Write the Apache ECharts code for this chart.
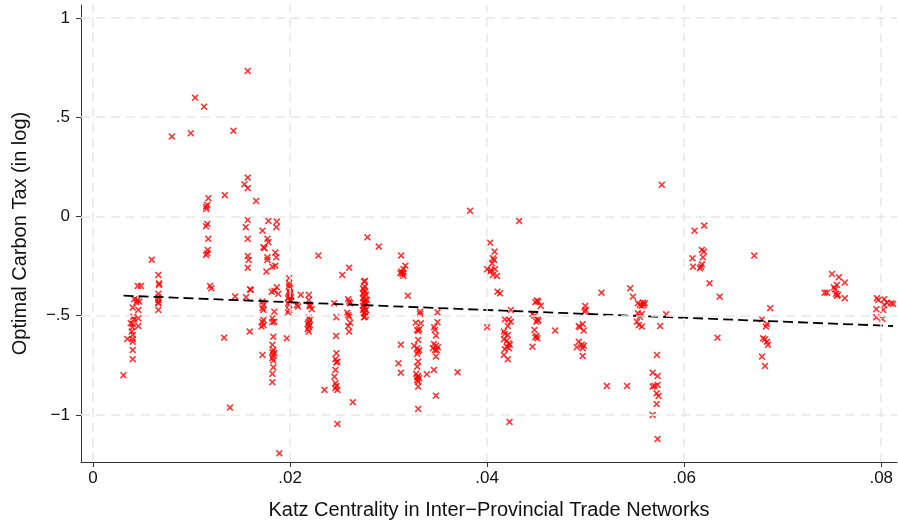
<!DOCTYPE html>
<html>
<head>
<meta charset="utf-8">
<script src="https://cdn.jsdelivr.net/npm/echarts@6/dist/echarts.min.js"></script>
<style>html,body{margin:0;padding:0;background:#fff}#c{width:898px;height:527px}</style>
</head>
<body>
<div id="c"></div>
<script>
// Katz centrality (x) and optimal carbon tax in log (y)
const katz = [
0.00308,0.00348,0.00383,0.00393,0.00400,0.00403,0.00403,0.00409,0.00416,0.00419,0.00403,0.00403,0.00403,0.00403,0.00403,0.00440,0.00450,0.00470,0.00460,0.00460,0.00460,0.00454,0.00487,
0.00596,0.00663,0.00670,0.00670,0.00663,0.00663,0.00663,0.00663,0.00663,0.00663,
0.0080,0.00992,0.01036,0.01127,0.01425,0.01337,0.01171,0.01160,0.01147,0.01150,0.01160,0.01147,0.01170,0.01164,0.01160,0.01147,0.01188,0.01200,0.0133,0.0139,0.01442,
0.0157,0.0157,0.01536,0.0157,0.01655,0.0157,0.0155,0.0157,0.0157,0.0158,0.0157,0.01594,0.0160,0.01553,0.0159,
0.0178,0.01865,0.0186,0.0172,0.0177,0.0178,0.0173,0.0174,0.0185,0.0186,0.0177,0.0177,0.0182,0.0185,0.0176,0.01814,0.0184,0.01865,0.0188,0.0172,0.0173,0.0172,0.0173,0.0173,0.0172,0.0173,0.0171,0.0184,0.0182,0.0184,0.0182,0.0183,0.0172,0.0182,0.0183,0.0182,0.0184,0.0183,0.0182,0.0183,0.0183,0.0182,0.0182,0.01891,
0.0199,0.0199,0.0199,0.0200,0.0199,0.0200,0.0200,0.0199,0.0201,0.0198,0.0200,0.0201,0.0198,0.0199,0.0199,0.0198,0.01966,
0.02108,0.0207,0.0208,0.0219,0.0219,0.0220,0.0220,0.0222,0.0219,0.0220,0.0219,0.0218,0.0220,0.0219,0.0218,0.0219,0.02287,
0.02349,0.02447,0.0247,0.02467,0.0247,0.0246,0.0248,0.0247,0.0246,0.0245,0.0246,0.0247,0.0246,0.0248,0.0248,0.0253,
0.0260,0.02637,0.0259,0.0260,0.0261,0.0258,0.0259,0.0260,0.0261,0.0259,0.0260,
0.02785,0.0290,0.0276,0.0275,0.0276,0.0274,0.0275,0.0276,0.0274,0.0277,0.0275,0.0274,0.0276,0.0278,0.0275,0.0277,0.0275,0.0274,0.0276,0.0275,0.0277,0.0274,0.0276,0.0275,0.0277,0.0276,0.0275,
0.03127,0.0317,0.0315,0.0313,0.0315,0.0312,0.0314,0.0315,0.03195,0.03124,0.0310,0.03124,
0.0332,0.0332,0.03276,0.03327,0.0329,0.0330,0.0331,0.0330,0.0326,0.0329,0.0331,0.0330,0.0329,0.0330,0.0329,0.0328,0.0330,0.0329,0.0331,0.0329,0.0330,0.0330,0.0330,0.03388,
0.03496,0.03496,0.03462,0.0347,0.0348,0.0346,0.0348,0.0345,0.0350,0.0347,0.0349,0.0348,0.0346,0.0348,0.0370,0.03827,
0.0400,0.0403,0.04075,0.0406,0.0407,0.0405,0.0400,0.0404,0.0408,0.0403,0.0406,0.0410,0.04105,0.0413,0.04325,
0.0424,0.0418,0.0422,0.0424,0.0421,0.0417,0.0418,0.0421,0.0417,0.0420,0.0422,0.0423,0.0420,0.0418,0.0422,0.0417,0.0421,0.04227,
0.04505,0.0452,0.0449,0.04545,0.0446,0.0448,0.0451,0.0450,0.0452,0.0448,0.0450,0.0451,0.0449,0.0446,0.0469,
0.04995,0.0500,0.0499,0.0493,0.0497,0.0494,0.0498,0.0493,0.0496,0.0491,0.0498,0.0497,0.0497,0.0516,0.05215,0.0542,
0.05452,0.0548,0.0553,0.0555,0.0558,0.0560,0.0557,0.0559,0.0553,0.0557,0.0555,0.0552,0.0554,0.0557,0.05817,0.05756,0.05773,
0.05723,0.0568,0.0573,0.0568,0.0570,0.0573,0.0572,0.0574,0.0572,0.0568,0.0573,
0.06105,0.06203,0.0618,0.0620,0.06084,0.0619,0.0609,0.0617,0.0618,0.0616,0.06257,0.0636,0.06338,0.06711,
0.0679,0.0684,0.0683,0.0680,0.0682,0.0684,0.0685,0.0679,0.0682,0.06873,
0.0750,0.0757,0.0763,0.0755,0.0752,0.0753,0.07425,0.0745,0.0754,0.0755,0.0756,0.0763,
0.07956,0.0797,0.0803,0.0806,0.0810,0.0812,0.0803,0.0795,0.0802,0.0795,0.0801
];
const tax = [
-0.800,-0.617,-0.538,-0.580,-0.558,-0.542,-0.459,-0.505,-0.518,-0.417,-0.597,-0.617,-0.631,-0.673,-0.719,-0.432,-0.421,-0.429,-0.471,-0.513,-0.552,-0.350,-0.350,
-0.218,-0.295,-0.337,-0.345,-0.390,-0.407,-0.421,-0.434,-0.437,-0.471,
0.402,0.419,0.598,0.553,0.431,0.107,0.092,0.058,0.049,0.038,-0.038,-0.049,-0.113,-0.169,-0.185,-0.194,-0.350,-0.362,-0.611,-0.963,-0.403,
0.733,0.196,0.162,0.142,0.078,-0.018,-0.054,-0.113,-0.199,-0.219,-0.258,-0.367,-0.370,-0.407,-0.580,
-0.023,-0.026,-0.054,-0.072,-0.113,-0.130,-0.155,-0.160,-0.182,-0.206,-0.206,-0.219,-0.253,-0.249,-0.278,-0.379,-0.374,-0.357,-0.390,-0.429,-0.446,-0.462,-0.471,-0.521,-0.533,-0.547,-0.555,-0.480,-0.513,-0.530,-0.533,-0.606,-0.698,-0.647,-0.673,-0.684,-0.689,-0.701,-0.714,-0.726,-0.760,-0.793,-0.835,-1.193,
-0.311,-0.337,-0.350,-0.362,-0.379,-0.387,-0.395,-0.404,-0.404,-0.412,-0.421,-0.424,-0.437,-0.446,-0.471,-0.483,-0.614,
-0.395,-0.446,-0.454,-0.395,-0.421,-0.446,-0.454,-0.467,-0.510,-0.521,-0.533,-0.542,-0.547,-0.555,-0.568,-0.580,-0.197,
-0.874,-0.437,-0.508,-0.602,-0.689,-0.719,-0.731,-0.736,-0.773,-0.807,-0.840,-0.854,-0.866,-0.874,-1.045,-0.295,
-0.258,-0.936,-0.417,-0.429,-0.437,-0.485,-0.496,-0.505,-0.535,-0.552,-0.580,
-0.105,-0.152,-0.325,-0.328,-0.354,-0.362,-0.370,-0.379,-0.387,-0.395,-0.404,-0.412,-0.421,-0.421,-0.429,-0.437,-0.437,-0.451,-0.454,-0.462,-0.471,-0.471,-0.485,-0.488,-0.496,-0.505,-0.508,
-0.197,-0.248,-0.266,-0.278,-0.283,-0.286,-0.290,-0.300,-0.399,-0.646,-0.740,-0.787,
-0.480,-0.491,-0.535,-0.538,-0.572,-0.577,-0.568,-0.622,-0.652,-0.664,-0.673,-0.681,-0.693,-0.731,-0.757,-0.793,-0.804,-0.810,-0.815,-0.824,-0.832,-0.857,-0.970,-0.795,
-0.483,-0.533,-0.558,-0.572,-0.600,-0.642,-0.652,-0.664,-0.659,-0.673,-0.673,-0.706,-0.773,-0.903,-0.785,0.028,
-0.558,-0.132,-0.177,-0.211,-0.219,-0.236,-0.266,-0.270,-0.266,-0.278,-0.295,-0.300,-0.379,-0.387,-0.023,
-0.471,-0.518,-0.518,-0.530,-0.552,-0.580,-0.592,-0.597,-0.619,-0.626,-0.639,-0.647,-0.656,-0.669,-0.664,-0.698,-0.719,-1.035,
-0.424,-0.429,-0.432,-0.451,-0.491,-0.500,-0.518,-0.530,-0.525,-0.572,-0.602,-0.614,-0.609,-0.656,-0.575,
-0.451,-0.471,-0.480,-0.552,-0.542,-0.558,-0.575,-0.631,-0.647,-0.659,-0.652,-0.664,-0.703,-0.384,-0.854,-0.854,
-0.362,-0.404,-0.437,-0.446,-0.434,-0.437,-0.451,-0.446,-0.488,-0.491,-0.505,-0.530,-0.547,-0.555,-0.493,-0.552,0.159,
-0.698,-0.787,-0.804,-0.857,-0.854,-0.849,-0.891,-0.904,-0.945,-1.000,-1.121,
-0.072,-0.046,-0.169,-0.177,-0.211,-0.206,-0.253,-0.253,-0.241,-0.261,-0.337,-0.404,-0.611,-0.197,
-0.518,-0.542,-0.555,-0.614,-0.619,-0.631,-0.647,-0.706,-0.753,-0.462,
-0.290,-0.306,-0.333,-0.345,-0.357,-0.367,-0.384,-0.384,-0.390,-0.400,-0.395,-0.412,
-0.412,-0.421,-0.417,-0.434,-0.437,-0.441,-0.446,-0.467,-0.471,-0.508,-0.516
];
// Fitted line end points
const fitX = [0.0031, 0.0812];
const fitY = [-0.399, -0.552];
// Ticks
const xTicks = [0, 0.02, 0.04, 0.06, 0.08];
const xTickLabels = ["0", ".02", ".04", ".06", ".08"];
const yTicks = [1, 0.5, 0, -0.5, -1];
const yTickLabels = ["1", ".5", "0", "\u2212.5", "\u22121"];

const points = katz.map((x, i) => [x, tax[i]]);
const fit = fitX.map((x, i) => [x, fitY[i]]);

const font = '"Liberation Sans", Arial, Helvetica, sans-serif';
const xMark = 'path://M1.6,0 L5,3.4 L8.4,0 L10,1.6 L6.6,5 L10,8.4 L8.4,10 L5,6.6 L1.6,10 L0,8.4 L3.4,5 L0,1.6 Z';

function lab(ticks, labels) {
  return v => {
    for (let i = 0; i < ticks.length; i++) if (Math.abs(ticks[i] - v) < 1e-9) return labels[i];
    return '';
  };
}

const chart = echarts.init(document.getElementById('c'), null, {renderer: 'canvas'});
chart.setOption({
  animation: false,
  backgroundColor: '#fff',
  grid: {left: 81, right: 1, top: 5, bottom: 65},
  xAxis: {
    type: 'value', min: -0.00122, max: 0.0816,
    name: 'Katz Centrality in Inter\u2212Provincial Trade Networks',
    nameLocation: 'middle', nameGap: 38,
    nameTextStyle: {fontFamily: font, fontSize: 20, color: '#111'},
    axisLine: {show: true, onZero: false, lineStyle: {color: '#333', width: 1}},
    axisTick: {show: true, length: 5, customValues: xTicks, lineStyle: {color: '#333'}},
    axisLabel: {customValues: xTicks, formatter: lab(xTicks, xTickLabels), margin: 8, fontFamily: font, fontSize: 17, color: '#111'},
    splitLine: {show: false}
  },
  yAxis: {
    type: 'value', min: -1.237, max: 1.065,
    name: 'Optimal Carbon Tax (in log)',
    nameLocation: 'middle', nameGap: 51, nameRotate: 90,
    nameTextStyle: {fontFamily: font, fontSize: 20, color: '#111'},
    axisLine: {show: true, onZero: false, lineStyle: {color: '#333', width: 1}},
    axisTick: {show: true, length: 5, customValues: yTicks, lineStyle: {color: '#333'}},
    axisLabel: {customValues: yTicks, formatter: lab(yTicks, yTickLabels), margin: 11, fontFamily: font, fontSize: 17, color: '#111'},
    splitLine: {show: false}
  },
  series: [
    {
      type: 'line', data: [], silent: true, z: 1,
      markLine: {
        silent: true, symbol: ['none', 'none'], label: {show: false},
        lineStyle: {color: '#e8e8e8', width: 1.5, type: [9, 6]},
        data: xTicks.map(v => ({xAxis: v})).concat(yTicks.map(v => ({yAxis: v})))
      }
    },
    {
      type: 'scatter', data: points, symbol: xMark, symbolSize: 7, z: 3,
      itemStyle: {color: '#ff0000'}
    },
    {
      type: 'line', data: fit, symbol: 'none', z: 4,
      lineStyle: {color: '#000', width: 1.8, type: [10, 5]}
    }
  ]
});
</script>
</body>
</html>
